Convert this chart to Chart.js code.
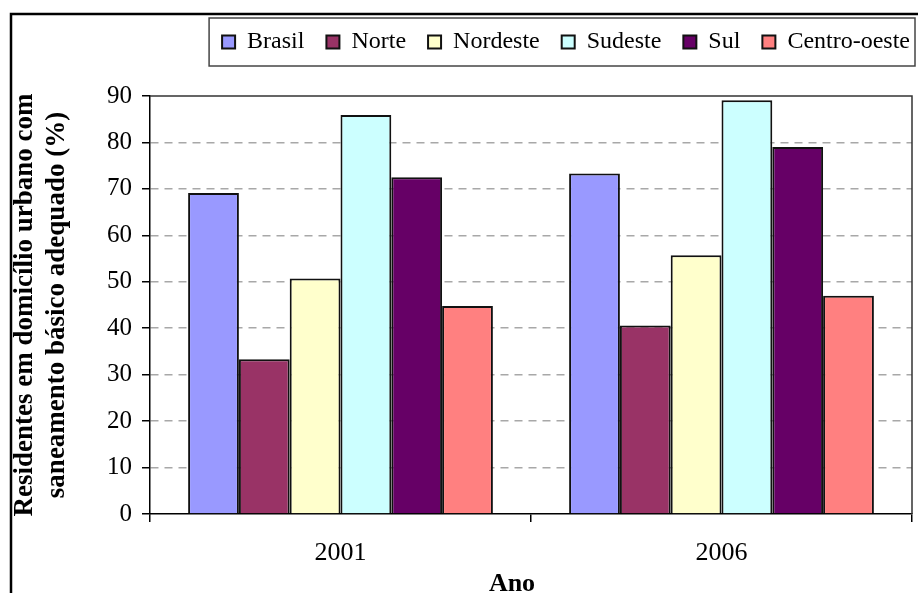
<!DOCTYPE html>
<html>
<head>
<meta charset="utf-8">
<script src="https://cdn.jsdelivr.net/npm/chart.js@4.4.1/dist/chart.umd.min.js"></script>
<style>
  html, body { margin: 0; padding: 0; background: #fff; }
  #wrap { width: 918px; height: 593px; }
</style>
</head>
<body>
<div id="wrap"><canvas id="chart" width="918" height="593"></canvas></div>
<script>
// data
const anos = ["2001", "2006"];
const regioes = ["Brasil", "Norte", "Nordeste", "Sudeste", "Sul", "Centro-oeste"];
const brasil = [69.1, 73.3];
const norte = [33.3, 40.6];
const nordeste = [50.7, 55.7];
const sudeste = [85.9, 89.1];
const sul = [72.5, 79.0];
const centroOeste = [44.8, 47.0];
const yTicks = [0, 10, 20, 30, 40, 50, 60, 70, 80, 90];

const serie = [brasil, norte, nordeste, sudeste, sul, centroOeste];
const cores = ["#9999FF", "#993366", "#FFFFCC", "#CCFFFF", "#660066", "#FF8080"];

const serif = "'Liberation Serif', 'Times New Roman', serif";

// frame around figure, legend box and plot box
const molduras = {
  id: "molduras",
  afterLayout(chart) {
    // push legend a bit to the right, like the original
    const lg = chart.legend;
    lg.left += 20;
    lg.right += 20;
    // "Ano" sits a little left of the plot centre
    const sx = chart.scales.x;
    if (!sx._tituloMovido) {
      const orig = sx.drawTitle.bind(sx);
      sx.drawTitle = function () {
        this.ctx.save();
        this.ctx.translate(-19, 0);
        orig();
        this.ctx.restore();
      };
      sx._tituloMovido = true;
    }
  },
  afterDraw(chart) {
    const ctx = chart.ctx;
    const a = chart.chartArea;
    const lg = chart.legend;
    ctx.save();
    // plot box top / right
    ctx.strokeStyle = "#333";
    ctx.lineWidth = 1.5;
    ctx.beginPath();
    ctx.moveTo(a.left, a.top);
    ctx.lineTo(a.right, a.top);
    ctx.lineTo(a.right, a.bottom);
    ctx.stroke();
    // legend box
    const lx = lg.right - lg.lineWidths[0] - 13;
    ctx.strokeStyle = "#444";
    ctx.lineWidth = 1.5;
    ctx.strokeRect(lx, 18, 915 - lx, 48);
    // outer frame
    ctx.strokeStyle = "#000";
    ctx.lineWidth = 2.5;
    ctx.beginPath();
    ctx.moveTo(11, 593);
    ctx.lineTo(11, 14);
    ctx.lineTo(918, 14);
    ctx.stroke();
    ctx.restore();
  }
};

const ctx = document.getElementById("chart");

new Chart(ctx, {
  type: "bar",
  data: {
    labels: anos,
    datasets: regioes.map((r, i) => ({
      label: r,
      data: serie[i],
      backgroundColor: cores[i],
      borderColor: "#111",
      borderWidth: 2,
      categoryPercentage: 0.8,
      barPercentage: 1.0
    }))
  },
  options: {
    responsive: false,
    devicePixelRatio: 1,
    animation: false,
    layout: { padding: { left: 10, right: 6, top: 8, bottom: 0 } },
    plugins: {
      tooltip: { enabled: false },
      legend: {
        position: "top",
        align: "end",
        labels: {
          color: "#000",
          font: { family: serif, size: 24 },
          boxWidth: 13,
          boxHeight: 13,
          padding: 22
        }
      }
    },
    scales: {
      x: {
        grid: {
          offset: true,
          drawOnChartArea: false,
          tickLength: 8,
          tickColor: "#000",
          lineWidth: 1.5
        },
        border: { color: "#000", width: 1.5 },
        ticks: { color: "#000", font: { family: serif, size: 26 }, padding: 16 },
        title: {
          display: true,
          text: "Ano",
          color: "#000",
          font: { family: serif, size: 26, weight: "bold" },
          padding: { top: 0, bottom: -7 }
        },
        afterFit(s) { s.height = 79; }
      },
      y: {
        min: 0,
        max: 90,
        afterBuildTicks(s) { s.ticks = yTicks.map(v => ({ value: v })); },
        grid: {
          color: c => (c.tick && (c.tick.value === 0 || c.tick.value === 90)) ? "rgba(0,0,0,0)" : "#a8a8a8",
          lineWidth: 1.5,
          tickLength: 8,
          tickColor: "#000",
          tickBorderDash: [100, 0]
        },
        border: { color: "#000", width: 1.5, dash: [8, 6] },
        ticks: { color: "#000", font: { family: serif, size: 25 }, padding: 10 },
        title: {
          display: true,
          text: ["Residentes em domicílio urbano com", "saneamento básico adequado (%)"],
          color: "#000",
          font: { family: serif, size: 27, weight: "bold", lineHeight: 1.15 },
          padding: { top: 0, bottom: 0 }
        },
        afterFit(s) { s.width = 140; }
      }
    }
  },
  plugins: [
    molduras,
    {
      id: "alturaLegenda",
      beforeInit(chart) {
        const fit = chart.legend.fit;
        chart.legend.fit = function () {
          fit.call(this);
          this.height = 88;
        };
      }
    }
  ]
});
</script>
</body>
</html>
